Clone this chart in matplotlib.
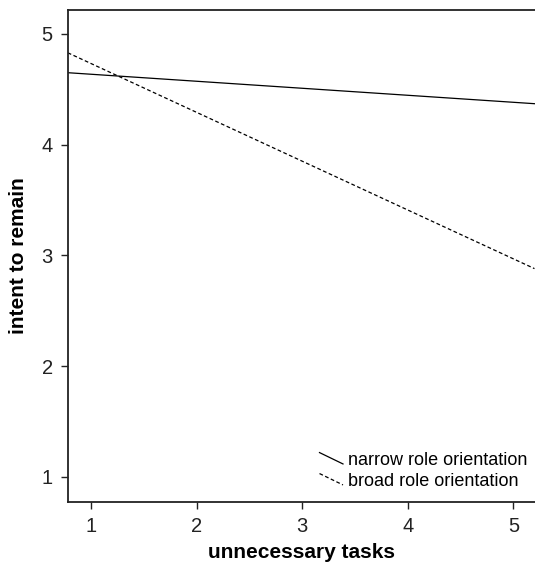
import matplotlib.pyplot as plt
from matplotlib.legend_handler import HandlerLine2D
from matplotlib.lines import Line2D

plt.rcParams["font.family"] = ["Liberation Sans", "DejaVu Sans"]

# simple slopes at the ends of the plotted range
x_range = [0.78, 5.2]
narrow = [4.65, 4.37]
broad = [4.83, 2.88]

x_ticks = [1, 2, 3, 4, 5]
y_ticks = [1, 2, 3, 4, 5]


class DiagonalHandler(HandlerLine2D):
    """Legend key drawn as a short falling diagonal."""

    def create_artists(self, legend, orig_handle, xdescent, ydescent,
                       width, height, fontsize, trans):
        line = Line2D([-xdescent, -xdescent + width],
                      [height * 0.95, -ydescent + height * 0.05])
        self.update_prop(line, orig_handle, legend)
        line.set_transform(trans)
        return [line]


fig = plt.figure(figsize=(5.35, 5.64), dpi=100)
ax = fig.add_axes([68 / 535, 1 - 501.7 / 564, 1 - 68 / 535, (501.7 - 9.5) / 564])

ax.plot(x_range, narrow, color="black", lw=0.9, label="narrow role orientation")
ax.plot(x_range, broad, color="black", lw=0.9, dashes=(3, 2),
        label="broad role orientation")

ax.set_xlim(0.782, 5.205)
ax.set_ylim(0.774, 5.221)
ax.set_xticks(x_ticks)
ax.set_yticks(y_ticks)
ax.tick_params(direction="out", length=5, width=1, labelsize=14.5, pad=6,
               color="#222222", labelcolor="#222222")
for side in ["left", "bottom", "top"]:
    ax.spines[side].set_linewidth(1.3)
    ax.spines[side].set_color("#222222")
ax.spines["right"].set_visible(False)

ax.set_xlabel("unnecessary tasks", fontsize=15, fontweight="bold", labelpad=5)
ax.set_ylabel("intent to remain", fontsize=15, fontweight="bold", labelpad=10)

ax.legend(loc="lower right", bbox_to_anchor=(1.0, 0.01), frameon=False,
          fontsize=13, handlelength=1.3, handletextpad=0.3, labelspacing=0.22,
          borderaxespad=0.0,
          handler_map={Line2D: DiagonalHandler()})

fig.savefig("out.png", dpi=100)
